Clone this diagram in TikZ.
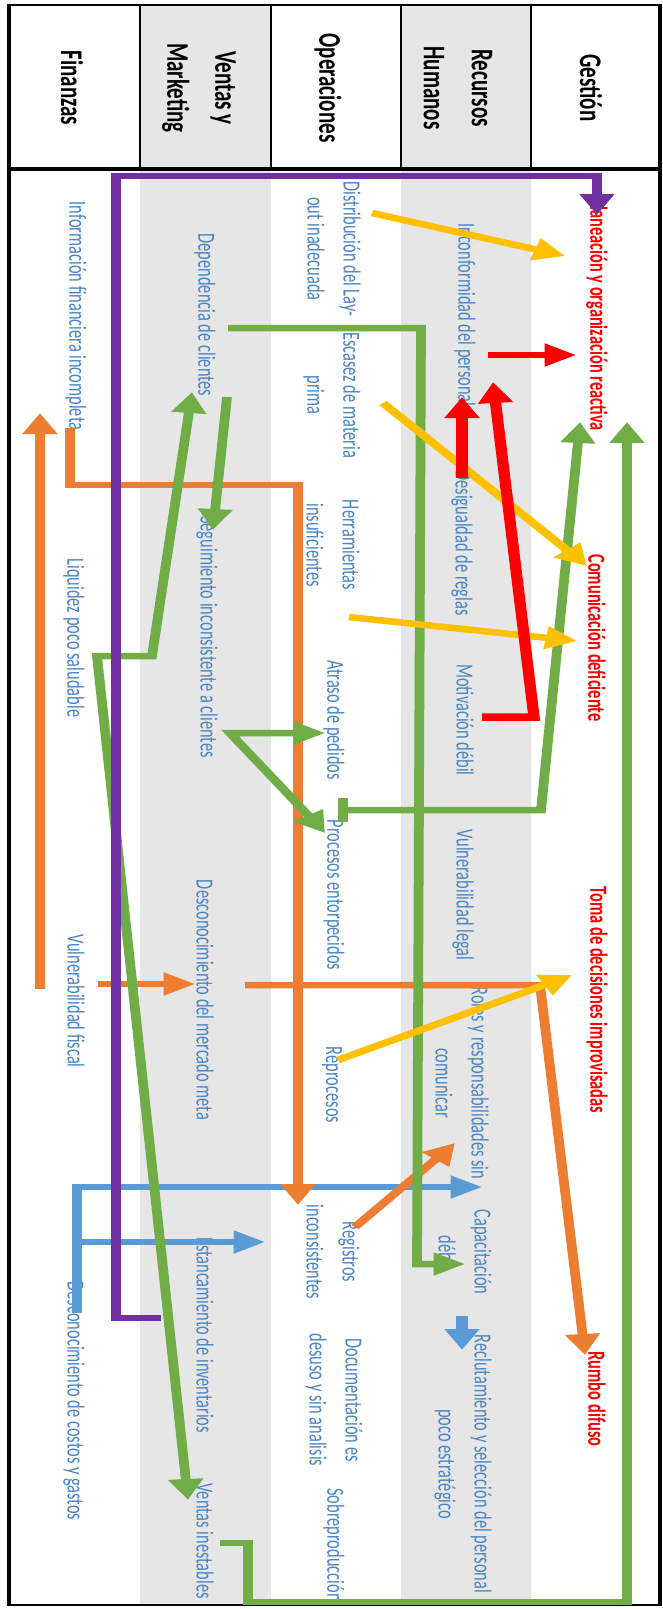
\documentclass[tikz,border=0pt]{standalone}
\usepackage{fontspec}
\setmainfont{Carlito}
\usetikzlibrary{arrows.meta}
\definecolor{LaneGray}{HTML}{E6E6E6}
\definecolor{TextBlue}{HTML}{4A85C6}
\definecolor{CauseRed}{HTML}{FF0000}
\definecolor{LinkPurple}{HTML}{7030A0}
\definecolor{LinkGold}{HTML}{FFC000}
\definecolor{LinkGreen}{HTML}{70AD47}
\definecolor{LinkOrange}{HTML}{ED7D31}
\definecolor{LinkBlue}{HTML}{5B9BD5}

\begin{document}
\begin{tikzpicture}[
  x=0.666667pt,y=-1pt,
  >={Triangle[length=21pt,width=22pt]},
  hd/.style={rotate=-90,align=center,inner sep=0pt,
             font=\fontsize{21}{32}\selectfont\bfseries},
  it/.style={rotate=-90,align=center,inner sep=0pt,text=TextBlue,
             font=\fontsize{16.4}{24}\selectfont},
  ef/.style={it,text=CauseRed,font=\fontsize{16.4}{24}\selectfont\bfseries},
  ln/.style={line width=6.5pt,->},
]
\path[fill=white,use as bounding box] (0pt,0pt) rectangle (663pt,-1609pt);
\begin{scope}[transform canvas={xscale=1.5}]
\fill[LaneGray] (140,5) rectangle (271,1605) (401,5) rectangle (531,1605);
\foreach \lx in {140,271,401,531} \draw[line width=1.5pt] (\lx,5) -- (\lx,169);
\draw[line width=3.5pt] (9,169) -- (660,169);
\draw[line width=2.5pt] (9,5) rectangle (660,1605);

\node[hd] (hfin) at (72,88) {Finanzas};
\node[hd] (hven) at (199,88) {Ventas y\\Marketing};
\node[hd] (hope) at (328,88) {Operaciones};
\node[hd] (hrh) at (458,88) {Recursos\\Humanos};
\node[hd] (hges) at (591,88) {Gestión};

\node[it] (infof) at (76,316) {Información financiera incompleta};
\node[it] (liqui) at (74,638) {Liquidez poco saludable};
\node[it] (vulnf) at (76,1001) {Vulnerabilidad fiscal};
\node[it] (desco) at (74,1401) {Desconocimiento de costos y gastos};
\node[it] (depen) at (205,315) {Dependencia de clientes};
\node[it] (segui) at (207,637) {Seguimiento inconsistente a clientes};
\node[it] (descm) at (205,1000) {Desconocimiento del mercado meta};
\node[it] (estan) at (205,1335) {Estancamiento de inventarios};
\node[it] (ventin) at (205,1541) {Ventas inestables};
\node[it] (distr) at (334,249) {Distribución del Lay-\\out inadecuada};
\node[it] (escas) at (332,395) {Escasez de materia\\prima};
\node[it] (herra) at (333,545) {Herramientas\\insuficientes};
\node[it] (atraso) at (334,720) {Atraso de pedidos};
\node[it] (proce) at (334,895) {Procesos entorpecidos};
\node[it] (repro) at (332,1085) {Reprocesos};
\node[it] (regis) at (333,1252) {Registros\\inconsistentes};
\node[it] (docum) at (334,1400) {Documentación es\\desuso y sin analisis};
\node[it] (sobre) at (334,1545) {Sobreproducción};
\node[it] (incon) at (465,315) {Inconformidad del personal};
\node[it] (desig) at (462,543) {Desigualdad de reglas};
\node[it] (motiv) at (465,720) {Motivación débil};
\node[it] (vulnl) at (463,895) {Vulnerabilidad legal};
\node[it] (roles) at (462,1083) {Roles y responsabilidades sin\\comunicar};
\node[it] (capac) at (465,1252) {Capacitación\\débil};
\node[it] (reclu) at (463,1464) {Reclutamiento y selección del personal\\poco estratégico};
\node[ef] (plane) at (597,314) {Planeación y organización reactiva};
\node[ef] (comun) at (597,638) {Comunicación deficiente};
\node[ef] (tomad) at (597,1000) {Toma de decisiones improvisadas};
\node[ef] (rumbo) at (597,1399) {Rumbo difuso};

\coordinate (pu1) at (161,1318); \coordinate (pu2) at (116,176); \coordinate (pu3) at (597,215);
\coordinate (go1) at (372,213); \coordinate (go2) at (565,256);
\coordinate (go3) at (383,403); \coordinate (go4) at (587,566);
\coordinate (go5) at (349,617); \coordinate (go6) at (577,641);
\coordinate (go7) at (338,1060); \coordinate (go8) at (572,975);
\coordinate (re1) at (488,355); \coordinate (re2) at (576,355);
\coordinate (re3) at (462,478); \coordinate (re4) at (462,397);
\coordinate (re5) at (482,717); \coordinate (re6) at (534,717); \coordinate (re7) at (493,382);
\coordinate (gr1) at (220,1543); \coordinate (gr2) at (248,1602); \coordinate (gr3) at (627,422);
\coordinate (gr4) at (338,810); \coordinate (gr5) at (541,810); \coordinate (gr6) at (580,422);
\coordinate (gr7) at (228,328); \coordinate (gr8) at (421,328);
\coordinate (gr9) at (417,1264); \coordinate (gr10) at (465,1264);
\coordinate (gr11) at (227,397); \coordinate (gr12) at (213,530);
\coordinate (gr13) at (192,392); \coordinate (gr14) at (152,656);
\coordinate (gr15) at (97,656); \coordinate (gr16) at (188,1500);
\coordinate (gr17) at (325,733); \coordinate (gr18) at (230,733); \coordinate (gr19) at (325,833);
\coordinate (or1) at (70,428); \coordinate (or2) at (298,485); \coordinate (or3) at (298,1205);
\coordinate (or4) at (40,989); \coordinate (or5) at (40,413);
\coordinate (or6) at (98,984); \coordinate (or7) at (195,984);
\coordinate (or8) at (245,985); \coordinate (or9) at (540,985); \coordinate (or10) at (585,1355);
\coordinate (or11) at (355,1227); \coordinate (or12) at (455,1143);
\coordinate (bl1) at (77,1313); \coordinate (bl2) at (482,1187);
\coordinate (bl3) at (72,1242); \coordinate (bl4) at (265,1242);
\coordinate (bl5) at (462,1316); \coordinate (bl6) at (462,1350);

\draw[ln,LinkBlue] (bl1) |- (bl2); \draw[ln,LinkBlue] (bl3) -- (bl4);
\draw[ln,LinkBlue,line width=8pt] (bl5) -- (bl6);
\draw[ln,LinkOrange] (or1) |- (or2) -- (or3); \draw[ln,LinkOrange] (or4) -- (or5);
\draw[ln,LinkOrange] (or6) -- (or7); \draw[ln,LinkOrange] (or8) -- (or9) -- (or10);
\draw[ln,LinkOrange] (or11) -- (or12);
\draw[ln,LinkGreen] (gr1) -| (gr2) -| (gr3);
\draw[ln,LinkGreen,{Bar[width=24pt]}->] (gr4) -- (gr5) -- (gr6);
\draw[ln,LinkGreen] (gr7) -- (gr8) -- (gr9) -- (gr10);
\draw[ln,LinkGreen] (gr11) -- (gr12);
\draw[ln,LinkGreen,<->] (gr13) -- (gr14) -- (gr15) -- (gr16);
\draw[ln,LinkGreen,<->] (gr17) -- (gr18) -- (gr19);
\draw[ln,LinkGold] (go1) -- (go2); \draw[ln,LinkGold] (go3) -- (go4);
\draw[ln,LinkGold] (go5) -- (go6); \draw[ln,LinkGold] (go7) -- (go8);
\draw[ln,CauseRed] (re1) -- (re2); \draw[ln,CauseRed,line width=7.5pt] (re3) -- (re4);
\draw[ln,CauseRed,line width=7.5pt] (re5) -- (re6) -- (re7);
\draw[ln,LinkPurple] (pu1) -| (pu2) -| (pu3);
\end{scope}
\end{tikzpicture}
\end{document}
